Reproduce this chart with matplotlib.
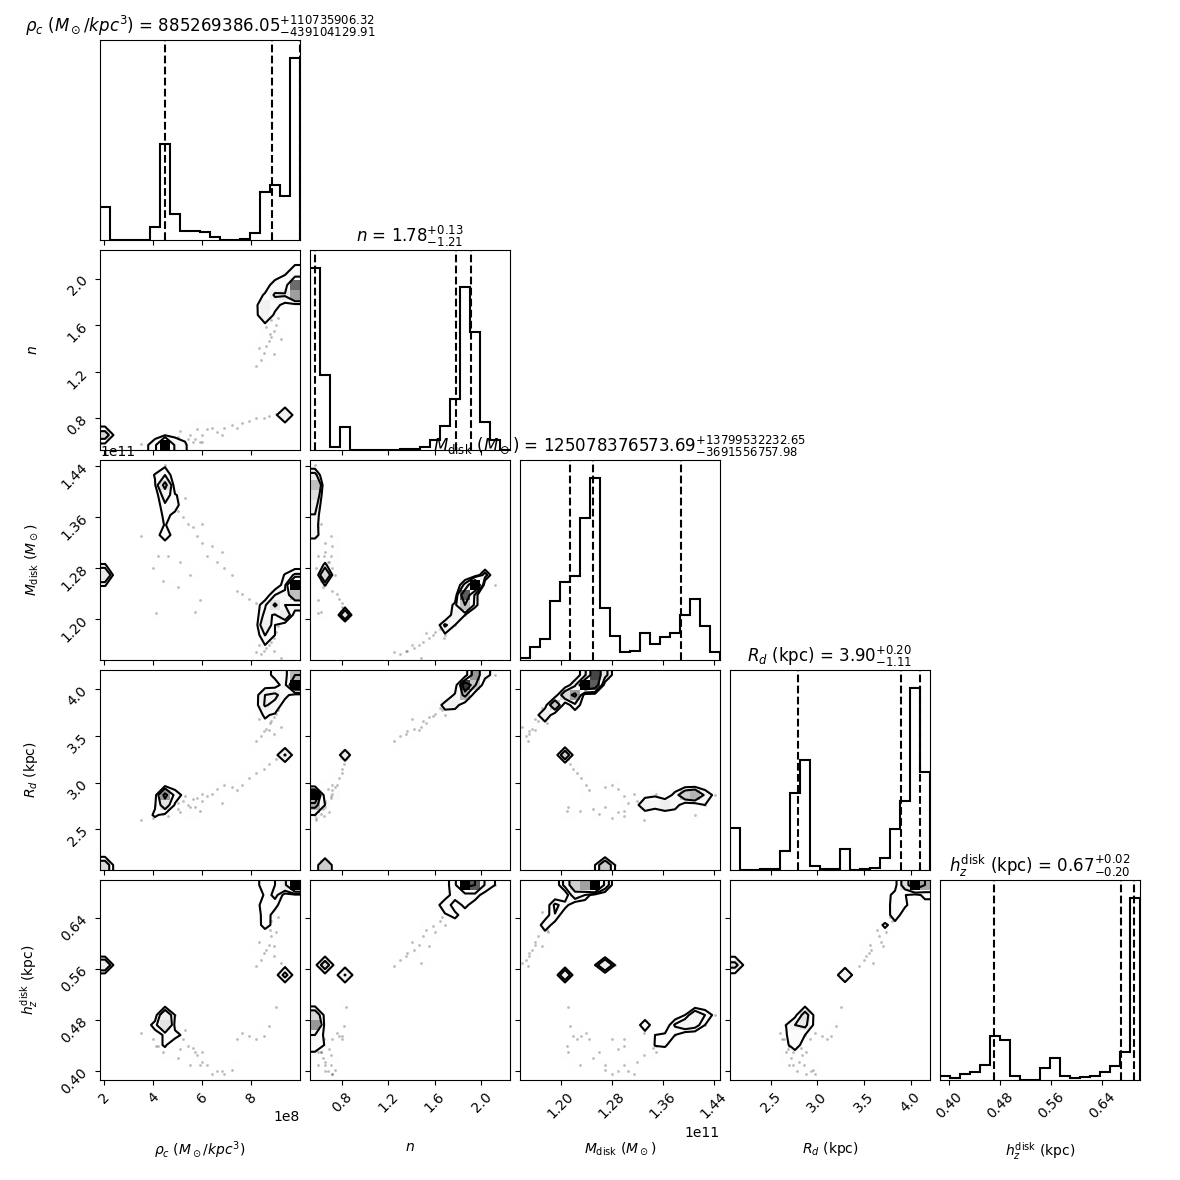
import numpy as np
import matplotlib
matplotlib.use("Agg")
import matplotlib.pyplot as plt
from matplotlib.colors import LinearSegmentedColormap

# ---------------- data ----------------
labels = [r"$\rho_c$ $(M_\odot/kpc^3)$", r"$n$", r"$M_{\rm disk}$ $(M_\odot)$",
          r"$R_d$ (kpc)", r"$h_z^{\rm disk}$ (kpc)"]
ranges = [(1.824e8, 9.98e8), (0.528, 2.245), (1.1361e11, 1.4499e11), (2.063, 4.209), (0.386, 0.700)]
ticks = [[2e8, 4e8, 6e8, 8e8], [0.8, 1.2, 1.6, 2.0], [1.20e11, 1.28e11, 1.36e11, 1.44e11],
         [2.5, 3.0, 3.5, 4.0], [0.40, 0.48, 0.56, 0.64]]
medians = [885269386.05, 1.78, 125078376573.69, 3.90, 0.67]
err_plus = [110735906.32, 0.13, 13799532232.65, 0.20, 0.02]
err_minus = [439104129.91, 1.21, 3691556757.98, 1.11, 0.20]

# 1D histogram heights (20 bins over each range)
rho_counts = [100, 0, 0, 0, 0, 38, 288, 78, 28, 28, 23, 8, 1, 1, 3, 21, 143, 165, 133, 545]
n_counts = [545, 225, 10, 68, 0, 0, 0, 0, 0, 4, 4, 10, 30, 72, 153, 490, 355, 83, 30, 0]
M_counts = [5, 40, 63, 177, 233, 253, 425, 545, 155, 72, 25, 28, 80, 47, 69, 80, 135, 183, 103, 23]
R_counts = [127, 0, 0, 2, 2, 57, 230, 330, 13, 2, 2, 63, 0, 2, 5, 35, 123, 208, 545, 293]
h_counts = [11, 6, 18, 25, 46, 133, 120, 11, 0, 0, 36, 67, 11, 5, 8, 13, 25, 41, 85, 545]

# weighted posterior samples: (rho, n, M, R, h, weight)
mode_A = [
    (9.78e8, 1.858, 1.2381e11, 4.048, 0.6922, 150),
    (9.78e8, 1.944, 1.2538e11, 4.048, 0.6922, 100),
    (9.78e8, 1.944, 1.2538e11, 4.155, 0.6922, 120),
    (9.78e8, 1.858, 1.2538e11, 4.048, 0.6922, 60),
    (9.37e8, 1.858, 1.2381e11, 4.048, 0.6922, 50),
    (8.96e8, 1.858, 1.2224e11, 3.941, 0.6922, 60),
    (8.55e8, 1.773, 1.2067e11, 3.941, 0.6922, 50),
    (8.96e8, 1.773, 1.2224e11, 3.833, 0.6765, 40),
    (9.78e8, 2.030, 1.2695e11, 4.155, 0.6922, 45),
    (9.78e8, 2.116, 1.2538e11, 4.155, 0.6922, 20),
    (8.55e8, 1.687, 1.1910e11, 3.833, 0.6608, 40),
    (8.96e8, 1.944, 1.2381e11, 4.155, 0.6765, 40),
    (8.55e8, 1.773, 1.1910e11, 3.833, 0.6451, 30),
    (9.78e8, 1.944, 1.2224e11, 4.048, 0.6922, 40),
    (9.37e8, 1.858, 1.2224e11, 3.941, 0.6922, 40),
    (8.55e8, 1.687, 1.1753e11, 3.726, 0.6294, 20),
    (8.96e8, 1.858, 1.2067e11, 3.941, 0.6608, 30),
    (8.55e8, 1.858, 1.2224e11, 3.941, 0.6765, 25),
    (9.37e8, 1.944, 1.2538e11, 4.155, 0.6922, 30),
    (9.37e8, 2.030, 1.2695e11, 4.155, 0.6922, 20),
]
mode_B = [
    (4.47e8, 0.571, 1.4107e11, 2.868, 0.4881, 70),
    (4.47e8, 0.571, 1.3950e11, 2.868, 0.4724, 60),
    (4.47e8, 0.571, 1.4107e11, 2.868, 0.4724, 40),
    (4.47e8, 0.571, 1.4264e11, 2.868, 0.4881, 40),
    (4.47e8, 0.571, 1.3793e11, 2.760, 0.4724, 35),
    (4.88e8, 0.571, 1.3950e11, 2.868, 0.4881, 20),
    (4.07e8, 0.571, 1.4264e11, 2.760, 0.4724, 20),
    (4.47e8, 0.571, 1.3322e11, 2.760, 0.4724, 40),
    (4.47e8, 0.571, 1.3636e11, 2.760, 0.4410, 25),
    (4.47e8, 0.571, 1.3479e11, 2.760, 0.4567, 20),
    (4.47e8, 0.571, 1.4421e11, 2.868, 0.4881, 12),
    (4.88e8, 0.571, 1.3793e11, 2.868, 0.4567, 20),
    (4.07e8, 0.571, 1.4107e11, 2.653, 0.4724, 15),
]
mode_C = [
    (2.03e8, 0.657, 1.2695e11, 2.117, 0.5666, 90),
    (2.03e8, 0.657, 1.2538e11, 2.117, 0.5666, 20),
    (2.03e8, 0.657, 1.2852e11, 2.117, 0.5666, 20),
]
mode_D = [
    (9.37e8, 0.828, 1.2067e11, 3.297, 0.5509, 80),
]
trail_B = [
    (5.0e8, 0.600, 1.370e11, 2.78, 0.460, 12), (5.2e8, 0.580, 1.360e11, 2.80, 0.450, 12),
    (5.4e8, 0.620, 1.350e11, 2.76, 0.440, 12), (5.6e8, 0.600, 1.345e11, 2.82, 0.437, 9),
    (5.8e8, 0.710, 1.330e11, 2.84, 0.425, 12), (6.0e8, 0.660, 1.320e11, 2.80, 0.415, 9),
    (6.2e8, 0.705, 1.300e11, 2.86, 0.410, 12), (6.4e8, 0.720, 1.315e11, 2.88, 0.395, 12),
    (6.6e8, 0.680, 1.290e11, 2.93, 0.400, 9), (6.9e8, 0.720, 1.280e11, 2.97, 0.395, 6),
    (7.2e8, 0.740, 1.270e11, 2.95, 0.402, 6), (4.2e8, 0.600, 1.300e11, 2.70, 0.440, 6),
    (4.4e8, 0.620, 1.260e11, 2.66, 0.430, 6), (4.0e8, 0.580, 1.280e11, 2.62, 0.450, 6),
    (5.0e8, 0.640, 1.250e11, 2.72, 0.420, 6), (5.5e8, 0.660, 1.270e11, 2.74, 0.410, 6),
    (4.8e8, 0.600, 1.380e11, 2.84, 0.470, 9), (5.3e8, 0.580, 1.390e11, 2.86, 0.465, 9),
    (6.0e8, 0.600, 1.350e11, 2.88, 0.430, 9), (5.9e8, 0.600, 1.230e11, 2.70, 0.410, 6),
    (3.5e8, 0.580, 1.330e11, 2.60, 0.460, 6), (6.8e8, 0.660, 1.305e11, 2.78, 0.400, 6),
    (5.7e8, 0.620, 1.212e11, 2.74, 0.430, 3), (4.1e8, 0.600, 1.210e11, 2.70, 0.440, 3),
    (4.6e8, 0.650, 1.300e11, 2.64, 0.450, 6), (5.1e8, 0.690, 1.290e11, 2.68, 0.435, 6),
]
trail_D = [
    (7.6e8, 0.76, 1.240e11, 2.98, 0.460, 3), (7.9e8, 0.78, 1.232e11, 3.05, 0.455, 3),
    (8.2e8, 0.80, 1.225e11, 3.10, 0.450, 3), (8.5e8, 0.80, 1.220e11, 3.15, 0.455, 3),
    (8.7e8, 0.82, 1.215e11, 3.20, 0.470, 6), (9.0e8, 0.84, 1.212e11, 3.25, 0.500, 6),
    (7.4e8, 0.72, 1.245e11, 2.92, 0.450, 3),
]
trail_A = [
    (8.40e8, 1.30, 1.145e11, 3.50, 0.575, 6), (8.50e8, 1.36, 1.150e11, 3.55, 0.585, 6),
    (8.60e8, 1.42, 1.155e11, 3.58, 0.590, 9), (8.70e8, 1.46, 1.160e11, 3.56, 0.598, 9),
    (8.80e8, 1.50, 1.165e11, 3.66, 0.612, 9), (8.90e8, 1.55, 1.170e11, 3.70, 0.596, 9),
    (8.60e8, 1.58, 1.175e11, 3.72, 0.628, 9), (9.00e8, 1.60, 1.180e11, 3.74, 0.618, 9),
    (8.80e8, 1.64, 1.185e11, 3.80, 0.636, 9), (9.10e8, 1.66, 1.190e11, 3.78, 0.642, 9),
    (8.50e8, 1.68, 1.170e11, 3.80, 0.650, 6), (8.70e8, 1.72, 1.195e11, 3.82, 0.655, 6),
    (9.20e8, 1.48, 1.140e11, 3.60, 0.570, 6), (8.30e8, 1.40, 1.160e11, 3.68, 0.603, 6),
    (8.90e8, 1.35, 1.150e11, 3.52, 0.580, 6), (8.20e8, 1.25, 1.148e11, 3.45, 0.565, 3),
    (8.75e8, 1.52, 1.178e11, 3.64, 0.622, 6),
]

# ---------------- plotting ----------------
counts_all = [rho_counts, n_counts, M_counts, R_counts, h_counts]
samples = np.array(mode_A + mode_B + mode_C + mode_D + trail_B + trail_D + trail_A, dtype=float)
weights = samples[:, 5]
K = 5
nbins = 20

density_cmap = LinearSegmentedColormap.from_list("density_cmap", ["k", (1, 1, 1, 0)])
white_cmap = LinearSegmentedColormap.from_list("white_cmap", [(1, 1, 1), (1, 1, 1)], N=2)
levels = 1.0 - np.exp(-0.5 * np.arange(0.5, 2.1, 0.5) ** 2)


def hist2d(ax, x, y, w, xr, yr):
    H, X, Y = np.histogram2d(x, y, bins=nbins, range=[xr, yr], weights=w)
    Hflat = H.flatten()
    inds = np.argsort(Hflat)[::-1]
    Hflat = Hflat[inds]
    sm = np.cumsum(Hflat)
    sm /= sm[-1]
    V = np.empty(len(levels))
    for i, v0 in enumerate(levels):
        try:
            V[i] = Hflat[sm <= v0][-1]
        except IndexError:
            V[i] = Hflat[0]
    V.sort()
    m = np.diff(V) == 0
    while np.any(m):
        V[np.where(m)[0][0]] *= 1.0 - 1e-4
        m = np.diff(V) == 0
    V.sort()
    X1, Y1 = 0.5 * (X[1:] + X[:-1]), 0.5 * (Y[1:] + Y[:-1])
    H2 = H.min() + np.zeros((H.shape[0] + 4, H.shape[1] + 4))
    H2[2:-2, 2:-2] = H
    H2[2:-2, 1] = H[:, 0]
    H2[2:-2, -2] = H[:, -1]
    H2[1, 2:-2] = H[0]
    H2[-2, 2:-2] = H[-1]
    H2[1, 1] = H[0, 0]
    H2[1, -2] = H[0, -1]
    H2[-2, 1] = H[-1, 0]
    H2[-2, -2] = H[-1, -1]
    X2 = np.concatenate([X1[0] + np.array([-2, -1]) * np.diff(X1[:2]), X1,
                         X1[-1] + np.array([1, 2]) * np.diff(X1[-2:])])
    Y2 = np.concatenate([Y1[0] + np.array([-2, -1]) * np.diff(Y1[:2]), Y1,
                         Y1[-1] + np.array([1, 2]) * np.diff(Y1[-2:])])
    for xi, yi, wi in zip(x, y, w):
        ax.plot(xi, yi, "o", ms=2.0, mec="none", color="k",
                alpha=1 - 0.9 ** min(wi, 3), zorder=-1)
    ax.contourf(X2, Y2, H2.T, [V.min(), H.max()], cmap=white_cmap, antialiased=False)
    ax.pcolor(X, Y, H.max() - H.T, cmap=density_cmap)
    ax.contour(X2, Y2, H2.T, V, colors="k")
    ax.set_xlim(xr)
    ax.set_ylim(yr)


fig, axes = plt.subplots(K, K, figsize=(11.8, 11.8), dpi=100)
lb = 1.0 / 11.8
tr = 11.4 / 11.8
fig.subplots_adjust(left=lb, bottom=lb, right=tr, top=tr, wspace=0.05, hspace=0.05)

for i in range(K):
    for j in range(K):
        ax = axes[i, j]
        if j > i:
            ax.set_frame_on(False)
            ax.set_xticks([])
            ax.set_yticks([])
            continue
        if i == j:
            edges = np.linspace(ranges[i][0], ranges[i][1], nbins + 1)
            c = np.array(counts_all[i], dtype=float)
            ax.stairs(c, edges, color="k", lw=1.5, baseline=0)
            med, up, lo = medians[i], err_plus[i], err_minus[i]
            for q in (med - lo, med, med + up):
                ax.axvline(q, ls="dashed", color="k")
            ax.set_xlim(ranges[i])
            ax.set_ylim(0, 1.1 * c.max())
            ax.set_yticks([])
            title = r"${{{0:.2f}}}_{{-{1:.2f}}}^{{+{2:.2f}}}$".format(med, lo, up)
            ax.set_title("{0} = {1}".format(labels[i], title))
        else:
            hist2d(ax, samples[:, j], samples[:, i], weights, ranges[j], ranges[i])
            ax.set_yticks(ticks[i])
            if j == 0:
                for l in ax.get_yticklabels():
                    l.set_rotation(45)
                ax.set_ylabel(labels[i])
                ax.yaxis.set_label_coords(-0.3, 0.5)
            else:
                ax.set_yticklabels([])
        ax.set_xticks(ticks[j])
        if i == K - 1:
            for l in ax.get_xticklabels():
                l.set_rotation(45)
            ax.set_xlabel(labels[j])
            ax.xaxis.set_label_coords(0.5, -0.3)
        else:
            ax.set_xticklabels([])

fig.savefig("out.png", dpi=100)
